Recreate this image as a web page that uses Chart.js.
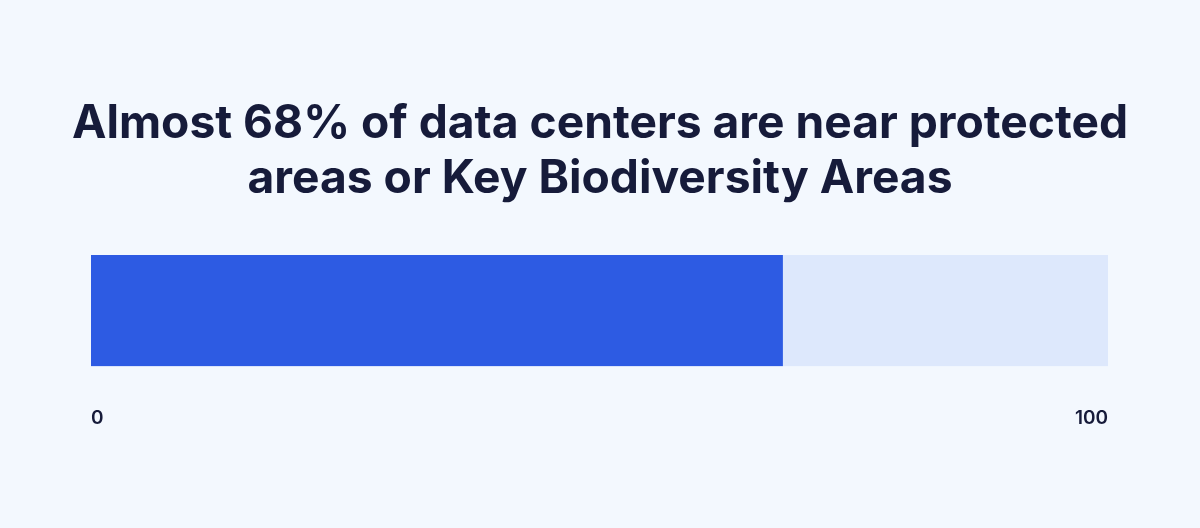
<!DOCTYPE html>
<html><head><meta charset="utf-8">
<script src="https://cdn.jsdelivr.net/npm/chart.js@4/dist/chart.umd.min.js"></script>
<style>html,body{margin:0;padding:0;background:#f3f8fe;}#wrap{width:1200px;height:528px;}</style>
</head><body><div id="wrap"><canvas id="c"></canvas></div>
<script>
const titleLines = ["Almost 68% of data centers are near protected", "areas or Key Biodiversity Areas"];
const categories = ["Data centers"];
const nearValues = [68];
const restValues = [32];
const tickLabels = {0: "0", 100: "100"};

new Chart(document.getElementById('c'), {
  type: 'bar',
  data: {
    labels: categories,
    datasets: [
      {data: nearValues, backgroundColor: '#2d5be3', barPercentage: 1, categoryPercentage: 1},
      {data: restValues, backgroundColor: '#dde8fc', barPercentage: 1, categoryPercentage: 1}
    ]
  },
  options: {
    indexAxis: 'y',
    responsive: true, maintainAspectRatio: false, animation: false,
    layout: {padding: {left: 20, right: 20, top: 96, bottom: 65}},
    plugins: {
      legend: {display: false}, tooltip: {enabled: false},
      title: {display: true, text: titleLines, color: '#161b3a',
        font: {family: 'Inter', size: 46.2, weight: '700', lineHeight: 1.2},
        padding: {top: 0, bottom: 48}}
    },
    scales: {
      x: {stacked: true, min: 0, max: 100,
        grid: {display: false}, border: {display: false},
        ticks: {stepSize: 100, align: 'inner', padding: 33, color: '#161b3a',
          font: {family: 'Inter', size: 19, weight: '600'},
          callback: v => tickLabels[v] ?? ''}},
      y: {stacked: true, display: true, position: 'left',
        grid: {display: false}, border: {display: false}, ticks: {display: false},
        afterFit: s => { s.width = 71; }},
      yR: {type: 'linear', display: true, position: 'right',
        grid: {display: false}, border: {display: false}, ticks: {display: false},
        afterFit: s => { s.width = 72; }}
    }
  }
});
</script></body></html>
